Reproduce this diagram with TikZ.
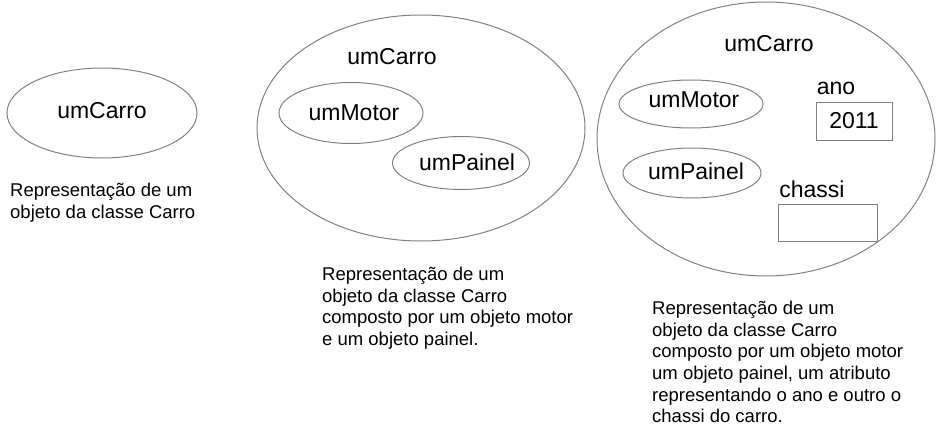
\documentclass[tikz,border=0pt]{standalone}
\usepackage{fontspec}
\setmainfont{Liberation Sans}
\usetikzlibrary{shapes.geometric}

\begin{document}
\begin{tikzpicture}[x=1pt,y=-1pt,
  objeto/.style={draw=gray,line width=1pt,ellipse,inner sep=0pt},
  campo/.style={draw=gray,line width=1pt,rectangle,inner sep=0pt},
  nome/.style={font=\fontsize{23}{27}\selectfont,inner sep=0pt},
  legenda/.style={font=\fontsize{18.5}{21.6}\selectfont,align=left,anchor=north west,inner sep=0pt}]
\useasboundingbox (0,0) rectangle (937,447);
% Objeto simples
\node[objeto,minimum width=190,minimum height=90] (carroA) at (102,113) {};
\node[nome] (carroAnome) at (102,111) {umCarro};
\node[legenda] (legendaA) at (10,183) {Representação de um\\objeto da classe Carro};
% Objeto composto
\node[objeto,minimum width=328,minimum height=226] (carroB) at (421,128) {};
\node[nome] (carroBnome) at (392,57) {umCarro};
\node[objeto,minimum width=144,minimum height=61] (motorB) at (351,113) {};
\node[nome] (motorBnome) at (354,113) {umMotor};
\node[objeto,minimum width=137,minimum height=53] (painelB) at (461,163) {};
\node[nome] (painelBnome) at (467,162) {umPainel};
\node[legenda] (legendaB) at (322,267) {Representação de um\\objeto da classe Carro\\composto por um objeto motor\\e um objeto painel.};
% Objeto composto com atributos
\node[objeto,minimum width=338,minimum height=274] (carroC) at (766,139) {};
\node[nome] (carroCnome) at (769,44) {umCarro};
\node[objeto,minimum width=144,minimum height=48] (motorC) at (691,104) {};
\node[nome] (motorCnome) at (694,100) {umMotor};
\node[objeto,minimum width=138,minimum height=50] (painelC) at (692,173) {};
\node[nome] (painelCnome) at (696,171) {umPainel};
\node[nome] (anoNome) at (836,88) {ano};
\node[campo,minimum width=76,minimum height=38,nome] (ano) at (854,121) {2011};
\node[nome] (chassiNome) at (812,189) {chassi};
\node[campo,minimum width=99,minimum height=37] (chassi) at (827.5,222.5) {};
\node[legenda] (legendaC) at (652,301) {Representação de um\\objeto da classe Carro\\composto por um objeto motor\\um objeto painel, um atributo\\representando o ano e outro o\\chassi do carro.};
\end{tikzpicture}
\end{document}
